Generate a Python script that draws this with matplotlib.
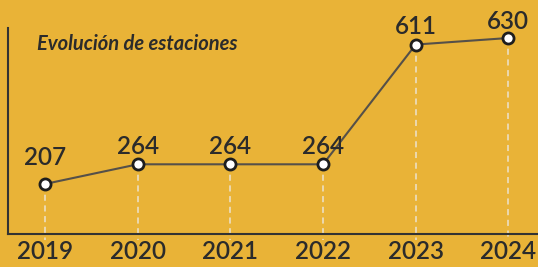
import matplotlib.pyplot as plt

BG = '#e9b337'
DARK = '#2b2b2b'
LINE = '#555049'

years = ['2019', '2020', '2021', '2022', '2023', '2024']
stations = [207, 264, 264, 264, 611, 630]
# vertical offset of each value label, in points
label_dy = [19, 13, 13, 13, 13, 12]

plt.rcParams['font.family'] = ['Lato', 'DejaVu Sans']

fig = plt.figure(figsize=(5.38, 2.67), dpi=100)
fig.patch.set_facecolor(BG)
# axes box in figure pixels: left 8, right 538, bottom 234, top 28
ax = fig.add_axes([8 / 538, (267 - 234) / 267, 530 / 538, (234 - 28) / 267])
ax.set_facecolor(BG)

x = list(range(len(years)))
ax.set_xlim(-0.4, 5.32)
ax.set_ylim(62, 659)

# dashed drop lines from each point down past the axis
for xi, v in zip(x, stations):
    ax.plot([xi, xi], [v, 44], color='#ece3cf', lw=1.1, ls=(0, (4, 3)),
            clip_on=False, zorder=1)

ax.plot(x, stations, color=LINE, lw=1.5, zorder=2)
ax.plot(x, stations, 'o', ms=8, mfc='white', mec='#1e1e1e', mew=2, zorder=3)

for xi, v, dy in zip(x, stations, label_dy):
    ax.annotate(str(v), (xi, v), xytext=(0, dy), textcoords='offset points',
                ha='center', va='center', fontsize=17.5, color=DARK,
                fontweight='semibold')

ax.text(0.054, 0.92, 'Evolución de estaciones', transform=ax.transAxes,
        fontsize=14.5, fontstyle='italic', fontweight='bold', color=DARK,
        ha='left', va='center')

ax.set_xticks(x)
ax.set_xticklabels(years, fontsize=17.5, color=DARK, fontweight='semibold')
ax.tick_params(axis='x', length=0, pad=4)
ax.set_yticks([])

for side in ['top', 'right']:
    ax.spines[side].set_visible(False)
for side in ['left', 'bottom']:
    ax.spines[side].set_color('#333333')
    ax.spines[side].set_linewidth(1.5)

fig.savefig('out.png', dpi=100, facecolor=BG)
